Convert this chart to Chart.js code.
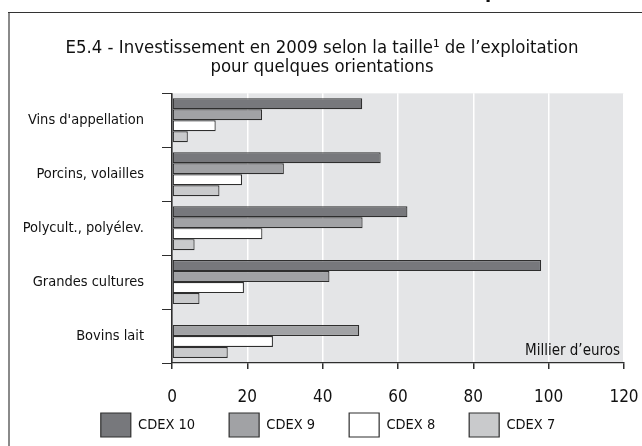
<!DOCTYPE html>
<html lang="fr">
<head>
<meta charset="utf-8">
<title>E5.4 - Investissement en 2009 selon la taille de l'exploitation</title>
<script src="https://cdn.jsdelivr.net/npm/chart.js@4/dist/chart.umd.min.js"></script>
<style>
  html, body { margin: 0; padding: 0; background: #fff; }
  #cadre { width: 642px; height: 446px; position: relative; }
</style>
</head>
<body>
<div id="cadre"><canvas id="graphique" width="642" height="446"></canvas></div>
<script>
// données (milliers d'euros)
const orientations = ["Vins d'appellation", 'Porcins, volailles', 'Polycult., polyélev.', 'Grandes cultures', 'Bovins lait'];
const cdex10 = [50.5, 55.4, 62.5, 98.0, null];
const cdex9 = [23.9, 29.7, 50.6, 41.8, 49.7];
const cdex8 = [11.6, 18.6, 24.0, 19.1, 26.8];
const cdex7 = [4.2, 12.6, 6.0, 7.3, 14.8];
const graduations = [0, 20, 40, 60, 80, 100, 120];

const police = "'Liberation Sans Narrow', 'DejaVu Sans Condensed', 'Arial Narrow', sans-serif";
const trait = '#2e2e2e';

function serie(nom, valeurs, couleur) {
  return {
    label: nom,
    data: valeurs,
    backgroundColor: couleur,
    borderColor: trait,
    borderWidth: 1.2,
    borderSkipped: false,
    categoryPercentage: 0.815,
    barPercentage: 1
  };
}

// fond gris de la zone de tracé + filets du cadre
const fond = {
  id: 'fond',
  beforeDraw(chart) {
    const { ctx, chartArea: a } = chart;
    ctx.save();
    ctx.fillStyle = '#fff';
    ctx.fillRect(0, 0, chart.width, chart.height);
    ctx.fillStyle = '#e4e5e7';
    ctx.fillRect(a.left, a.top, a.right - a.left, a.bottom - a.top);
    ctx.strokeStyle = '#8a8a8a';
    ctx.lineWidth = 2;
    ctx.beginPath();
    ctx.moveTo(9, 12);
    ctx.lineTo(9, chart.height);
    ctx.stroke();
    ctx.strokeStyle = '#333';
    ctx.lineWidth = 1;
    ctx.beginPath();
    ctx.moveTo(8, 12.5);
    ctx.lineTo(chart.width, 12.5);
    ctx.stroke();
    // bout de lettre du titre de page, coupé en haut
    ctx.fillStyle = '#111';
    ctx.font = 'bold 20px ' + police;
    ctx.textAlign = 'left';
    ctx.textBaseline = 'alphabetic';
    ctx.fillText('p', 485, -2.5);
    ctx.restore();
  }
};

// unité en bas à droite de la zone de tracé
const unite = {
  id: 'unite',
  afterDatasetsDraw(chart) {
    const { ctx, chartArea: a } = chart;
    ctx.save();
    ctx.fillStyle = '#111';
    ctx.font = '15px ' + police;
    ctx.textAlign = 'right';
    ctx.textBaseline = 'alphabetic';
    ctx.fillText('Millier d\u2019euros', a.right - 4, a.bottom - 8);
    ctx.restore();
  }
};

// légende un peu décalée vers la droite, comme sur l'original
const decalage = {
  id: 'decalage',
  afterLayout(chart) {
    const l = chart.legend;
    l.left += 6; l.right += 6;
    l.top += 1; l.bottom += 1;
  }
};

new Chart(document.getElementById('graphique'), {
  type: 'bar',
  data: {
    labels: orientations,
    datasets: [
      serie('CDEX 10', cdex10, '#77787c'),
      serie('CDEX 9', cdex9, '#a1a2a5'),
      serie('CDEX 8', cdex8, '#ffffff'),
      serie('CDEX 7', cdex7, '#c9cacc')
    ]
  },
  options: {
    indexAxis: 'y',
    responsive: false,
    animation: false,
    layout: { padding: { left: 20, right: 18, top: 0, bottom: 0 } },
    scales: {
      x: {
        min: 0,
        max: 120,
        afterBuildTicks: s => { s.ticks = graduations.map(v => ({ value: v })); },
        afterFit: s => {
          s.height = 15;
          s.paddingLeft = 0;
          s.paddingRight = 0;
          // les libellés débordent sous l'axe, ne pas les couper
          s._computeLabelArea = () => undefined;
        },
        grid: {
          color: c => (c.tick && c.tick.value === 0 ? trait : '#ffffff'),
          lineWidth: 1.5,
          tickColor: trait,
          tickLength: 6
        },
        border: { color: trait, width: 1.2 },
        ticks: { color: '#111', font: { family: police, size: 17 }, padding: 18 }
      },
      y: {
        afterFit: s => { s.width = 152; },
        grid: {
          drawOnChartArea: false,
          offset: true,
          color: trait,
          tickLength: 10
        },
        border: { color: trait, width: 1.2 },
        ticks: { color: '#111', font: { family: police, size: 14.5 }, padding: 18 }
      }
    },
    plugins: {
      title: {
        display: true,
        text: ['E5.4 - Investissement en 2009 selon la taille\u00b9 de l\u2019exploitation', 'pour quelques orientations'],
        color: '#111',
        font: { family: police, size: 18.4, weight: 'normal', lineHeight: 1.05 },
        padding: { top: 38.5, bottom: 16.2 }
      },
      legend: {
        position: 'bottom',
        labels: {
          color: '#111',
          font: { family: police, size: 14.5 },
          boxWidth: 30,
          boxHeight: 24,
          padding: 34
        }
      },
      tooltip: { enabled: false }
    }
  },
  plugins: [fond, unite, decalage]
});
</script>
</body>
</html>
